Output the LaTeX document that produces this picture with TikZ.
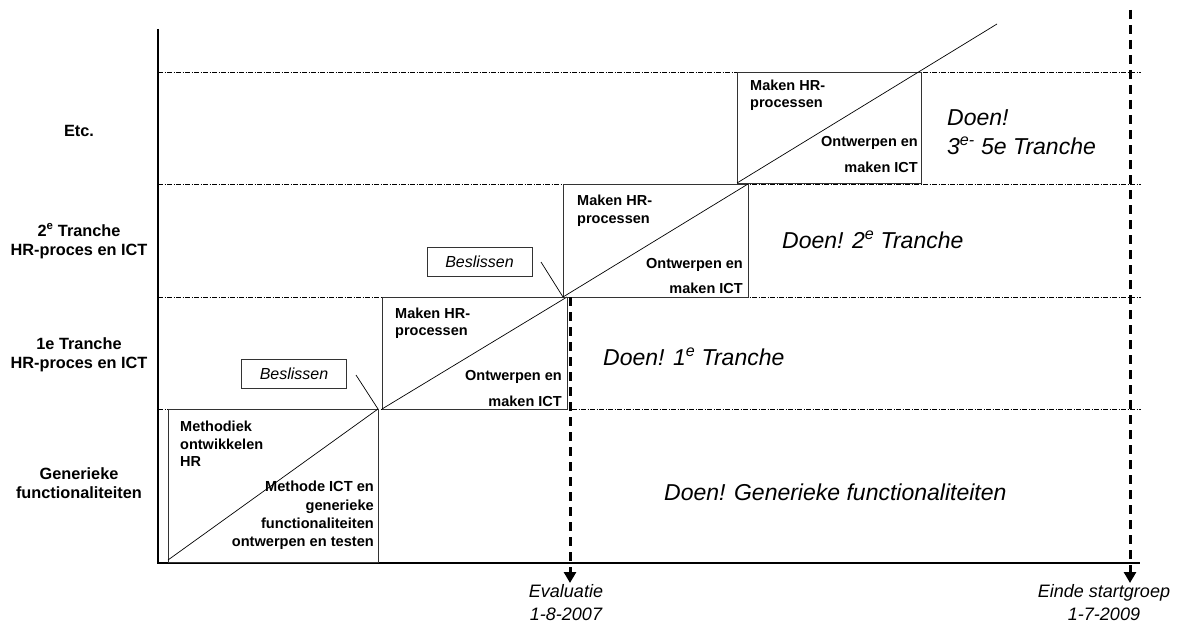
\documentclass[tikz,border=0pt]{standalone}
\usepackage{fontspec}
\setmainfont{Liberation Sans}
\usetikzlibrary{arrows.meta}

\begin{document}
\begin{tikzpicture}[x=1pt,y=-1pt,
  rowlabel/.style={font=\fontsize{16.3}{19.5}\selectfont\bfseries, align=center, inner sep=0pt},
  boxtxt/.style={font=\fontsize{14.5}{17.5}\selectfont\bfseries, inner sep=0pt},
  phase/.style={draw=black!80, line width=0.9pt},
  diag/.style={line width=0.7pt},
  decide/.style={draw=black!80, line width=0.9pt, font=\fontsize{16}{19}\selectfont\itshape,
    minimum width=105pt, minimum height=29pt, inner sep=0pt},
  doen/.style={font=\fontsize{23}{29}\selectfont\itshape, inner sep=0pt},
  datelbl/.style={font=\fontsize{18}{23}\selectfont\itshape, align=center, inner sep=0pt},
  gridline/.style={line width=0.8pt, dash pattern=on 5pt off 1.5pt on 1pt off 1.5pt},
  milestone/.style={line width=3pt, dash pattern=on 9pt off 6pt,
    -{Triangle[width=12pt,length=11pt]}},
]
\useasboundingbox (0,0) rectangle (1179,626);

% axes
\coordinate (ytop) at (158,29);
\coordinate (origin) at (158,563);
\coordinate (xend) at (1140,563);
\draw[line width=1.1pt] (ytop) -- (origin) -- (xend);

% row separators
\foreach \yy/\nm in {72/ra,184/rb,297/rc,409/rd}{
  \coordinate (\nm l) at (158,\yy);
  \coordinate (\nm r) at (1141,\yy);
  \draw[gridline] (\nm l) -- (\nm r);
}

% row labels
\node[rowlabel] (etc) at (79,131) {Etc.};
\node[rowlabel] (t2) at (79,241.5) {2\textsuperscript{e} Tranche\\HR-proces en ICT};
\node[rowlabel] (t1) at (79,355) {1e Tranche\\HR-proces en ICT};
\node[rowlabel] (gen) at (79,483) {Generieke\\functionaliteiten};

% phase boxes
\draw[phase] (168,409) rectangle (378,562);
\coordinate (b1sw) at (168,560); \coordinate (b1ne) at (378,409);
\draw[diag] (b1sw) -- (b1ne);
\node[boxtxt, anchor=west, align=left] (m1) at (180,444) {Methodiek\\ontwikkelen\\HR};
\node[boxtxt, anchor=east, align=right, font=\fontsize{14.6}{18.3}\selectfont\bfseries] (o1) at (374,515.5)
  {Methode ICT en\\generieke\\functionaliteiten\\ontwerpen en testen};

\draw[phase] (382,297) rectangle (567,409);
\coordinate (b2sw) at (382,409); \coordinate (b2ne) at (567,297);
\draw[diag] (b2sw) -- (b2ne);
\node[boxtxt, anchor=west, align=left] (m2) at (395,323) {Maken HR-\\processen};
\node[boxtxt, anchor=east, align=right, font=\fontsize{14.5}{26}\selectfont\bfseries] (o2) at (562,389) {Ontwerpen en\\maken ICT};

\draw[phase] (563,184) rectangle (748,297);
\coordinate (b3sw) at (563,297); \coordinate (b3ne) at (748,184);
\draw[diag] (b3sw) -- (b3ne);
\node[boxtxt, anchor=west, align=left] (m3) at (577,211) {Maken HR-\\processen};
\node[boxtxt, anchor=east, align=right, font=\fontsize{14.5}{25}\selectfont\bfseries] (o3) at (743,276) {Ontwerpen en\\maken ICT};

\draw[phase] (737,72) rectangle (921,183);
\coordinate (b4sw) at (737,183); \coordinate (b4end) at (997,24);
\draw[diag] (b4sw) -- (b4end);
\node[boxtxt, anchor=west, align=left] (m4) at (750,95.5) {Maken HR-\\processen};
\node[boxtxt, anchor=east, align=right, font=\fontsize{14.5}{26}\selectfont\bfseries] (o4) at (918,155) {Ontwerpen en\\maken ICT};

% decision points
\node[decide] (d1) at (294,374) {Beslissen};
\coordinate (d1p) at (356,375);
\draw[diag] (d1p) -- (b1ne);
\node[decide] (d2) at (479.5,261.5) {Beslissen};
\coordinate (d2p) at (541,262);
\draw[diag] (d2p) -- (b3sw);

% execution labels
\node[doen, anchor=west] (x1) at (603,357) {Doen! 1\textsuperscript{e} Tranche};
\node[doen, anchor=west] (x2) at (782,240) {Doen! 2\textsuperscript{e} Tranche};
\node[doen, anchor=west] (x0) at (664,492) {Doen! Generieke functionaliteiten};
\node[doen, anchor=west, align=left] (x3) at (947,132.5) {Doen!\\3\textsuperscript{e-} 5e Tranche};

% milestones
\coordinate (evtop) at (570,297);
\coordinate (evtip) at (570,583);
\draw[milestone] (evtop) -- (evtip);
\node[datelbl, anchor=north] (ev) at (566,584) {Evaluatie\\1-8-2007};

\coordinate (eitop) at (1130,10);
\coordinate (eitip) at (1130,583);
\draw[milestone] (eitop) -- (eitip);
\node[datelbl, anchor=north] (ei) at (1104,584) {Einde startgroep\\1-7-2009};
\end{tikzpicture}
\end{document}
